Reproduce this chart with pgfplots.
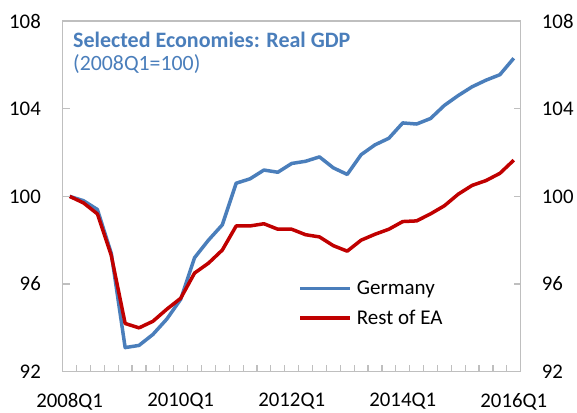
\documentclass[border=0pt]{standalone}
\usepackage{fontspec}
\setmainfont{Carlito}
\usepackage{pgfplots}
\pgfplotsset{compat=1.18}
\definecolor{deblue}{HTML}{4A7EBB}
\definecolor{eared}{HTML}{C00000}
\definecolor{axgray}{HTML}{BFBFBF}

% shared frame for the main axis and the right-hand label axis
\pgfplotsset{gdpbase/.style={
  at={(0pt,0pt)}, anchor=south west,
  scale only axis, width=458pt, height=350.7pt,
  xmin=-0.5, xmax=32.5, ymin=92, ymax=108,
  ytick={92,96,...,108},
  axis line style={axgray, line width=1.5pt},
  tick style={axgray, line width=1.2pt},
  major tick length=7pt, minor tick length=7pt,
  tick align=inside,
  /pgf/number format/assume math mode=true,
  ticklabel style={font=\fontsize{20.8}{24}\selectfont, text=black, inner sep=0pt},
}}

\begin{document}
\begin{tikzpicture}
\useasboundingbox (-62.7pt,-40.3pt) rectangle (514.3pt,371.7pt);
\begin{axis}[gdpbase,
  xtick={0,8,16,24,32},
  xticklabels={2008Q1,2010Q1,2012Q1,2014Q1,2016Q1},
  minor xtick={0.5,1.5,...,31.5},
  xtick pos=left,
  major x tick style={draw=none},
  xticklabel style={anchor=north, yshift=-21.5pt},
  ytick pos=both, yticklabel pos=left,
  yticklabel style={anchor=east, xshift=-21.7pt},
  legend style={at={(0.514,0.2595)}, anchor=north west, draw=none, fill=none,
    inner sep=0pt, row sep=14pt, font=\fontsize{21}{24}\selectfont,
    nodes={inner sep=0pt}, /tikz/every odd column/.append style={column sep=5pt}},
  legend cell align=left,
  legend image code/.code={\draw[#1] (0pt,0pt) -- (50pt,0pt);},
]
% Germany
\addplot[deblue, line width=3.5pt, line join=round, no marks] coordinates {
 (0,100) (1,99.8) (2,99.4) (3,97.4) (4,93.1) (5,93.2) (6,93.7) (7,94.4)
 (8,95.3) (9,97.2) (10,98.0) (11,98.7) (12,100.6) (13,100.8) (14,101.2) (15,101.1)
 (16,101.5) (17,101.6) (18,101.8) (19,101.3) (20,101.0) (21,101.9) (22,102.35) (23,102.65)
 (24,103.35) (25,103.3) (26,103.55) (27,104.15) (28,104.6) (29,105.0) (30,105.3) (31,105.55)
 (32,106.3)
};
\addlegendentry{Germany}
% Rest of euro area
\addplot[eared, line width=3.5pt, line join=round, no marks] coordinates {
 (0,100) (1,99.7) (2,99.2) (3,97.3) (4,94.2) (5,94.0) (6,94.3) (7,94.85)
 (8,95.35) (9,96.5) (10,96.95) (11,97.55) (12,98.65) (13,98.65) (14,98.75) (15,98.5)
 (16,98.5) (17,98.25) (18,98.15) (19,97.75) (20,97.5) (21,98.0) (22,98.27) (23,98.5)
 (24,98.85) (25,98.88) (26,99.2) (27,99.57) (28,100.1) (29,100.5) (30,100.72) (31,101.05)
 (32,101.65)
};
\addlegendentry{Rest of EA}
\node[anchor=base west, inner sep=0pt, font=\fontsize{22}{25}\selectfont\bfseries, text=deblue]
  at (rel axis cs:0.0225,0.925) {Selected Economies: Real GDP};
\node[anchor=base west, inner sep=0pt, font=\fontsize{21.8}{24}\selectfont, text=deblue]
  at (rel axis cs:0.0225,0.859) {(2008Q1=100)};
\end{axis}
\begin{axis}[gdpbase,
  xtick=\empty,
  ytick pos=both, yticklabel pos=right,
  yticklabel style={anchor=west, xshift=21pt},
]
\end{axis}
\end{tikzpicture}
\end{document}
